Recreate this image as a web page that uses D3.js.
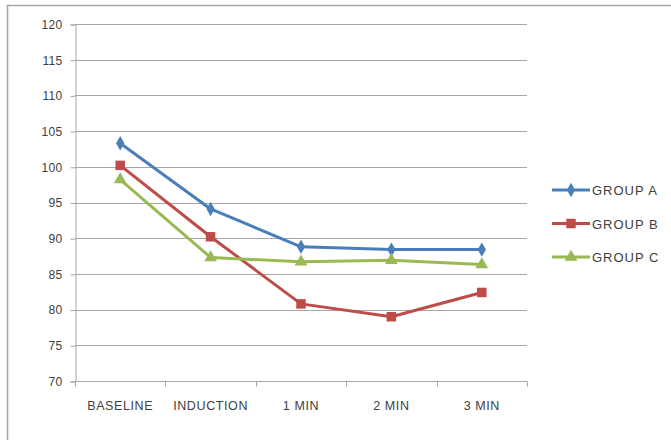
<!DOCTYPE html>
<html>
<head>
<meta charset="utf-8">
<script src="https://cdn.jsdelivr.net/npm/d3@7"></script>
<style>
  html, body { margin: 0; padding: 0; background: #fff; }
  svg { display: block; }
  text { font-family: "Liberation Sans", Arial, sans-serif; fill: #404040; }
</style>
</head>
<body>
<svg id="chart" width="671" height="440"></svg>
<script>
// Time points and the mean value per group
const categories = ["BASELINE", "INDUCTION", "1 MIN", "2 MIN", "3 MIN"];
const groupA = [103.3, 94.1, 88.8, 88.4, 88.4];
const groupB = [100.2, 90.2, 80.8, 79.0, 82.4];
const groupC = [98.2, 87.3, 86.7, 86.9, 86.3];
const seriesNames = ["GROUP A", "GROUP B", "GROUP C"];
const yTicks = [70, 75, 80, 85, 90, 95, 100, 105, 110, 115, 120];

const series = [
  { name: seriesNames[0], values: groupA, color: "#4a7ebb", symbol: d3.symbolDiamond, size: 60 },
  { name: seriesNames[1], values: groupB, color: "#be4b48", symbol: d3.symbolSquare, size: 90 },
  { name: seriesNames[2], values: groupC, color: "#98b954", symbol: d3.symbolTriangle, size: 70 }
];

const svg = d3.select("#chart");

// outer frame
svg.append("rect")
  .attr("x", 7.5).attr("y", 5.5)
  .attr("width", 700).attr("height", 500)
  .attr("fill", "none").attr("stroke", "#a6a6a6").attr("stroke-width", 1.5);

const plot = { left: 75, right: 527, top: 24, bottom: 381 };

const x = d3.scaleBand().domain(categories).range([plot.left, plot.right]);
const y = d3.scaleLinear().domain([70, 120]).range([plot.bottom, plot.top]);

// horizontal gridlines
svg.append("g")
  .selectAll("line")
  .data(yTicks.slice(1))
  .join("line")
  .attr("x1", plot.left).attr("x2", plot.right)
  .attr("y1", d => Math.round(y(d)) + 0.5).attr("y2", d => Math.round(y(d)) + 0.5)
  .attr("stroke", "#a6a6a6").attr("stroke-width", 1);

// y axis
const yAxis = svg.append("g")
  .attr("transform", `translate(${plot.left + 0.5},0.5)`)
  .call(d3.axisLeft(y).tickValues(yTicks).tickSize(5).tickPadding(8).tickFormat(d3.format("d")));
yAxis.select(".domain").attr("stroke", "#a6a6a6");
yAxis.selectAll(".tick line").attr("stroke", "#a6a6a6");
yAxis.selectAll("text")
  .attr("font-size", 12)
  .style("font-family", "'Liberation Sans', Arial, sans-serif")
  .style("letter-spacing", "0.3px")
  .attr("fill", "#404040");

// x axis with ticks on category boundaries
const xAxisG = svg.append("g").attr("transform", `translate(0,${plot.bottom + 0.5})`);
xAxisG.append("line")
  .attr("x1", plot.left).attr("x2", plot.right)
  .attr("stroke", "#a6a6a6");
const bounds = categories.map(c => x(c)).concat([x(categories[categories.length - 1]) + x.bandwidth()]);
xAxisG.selectAll("line.tk")
  .data(bounds)
  .join("line")
  .attr("class", "tk")
  .attr("x1", d => Math.round(d) + 0.5).attr("x2", d => Math.round(d) + 0.5)
  .attr("y1", 0).attr("y2", 5)
  .attr("stroke", "#a6a6a6");
xAxisG.selectAll("text")
  .data(categories)
  .join("text")
  .attr("x", d => x(d) + x.bandwidth() / 2)
  .attr("y", 28)
  .attr("text-anchor", "middle")
  .attr("font-size", 12.5)
  .style("letter-spacing", "0.6px")
  .text(d => d);

// lines and markers
const cx = c => x(c) + x.bandwidth() / 2;
const line = d3.line().x((d, i) => cx(categories[i])).y(d => y(d));

series.forEach(s => {
  svg.append("path")
    .datum(s.values)
    .attr("d", line)
    .attr("fill", "none")
    .attr("stroke", s.color)
    .attr("stroke-width", 3)
    .attr("stroke-linejoin", "round");
  svg.append("g")
    .selectAll("path")
    .data(s.values)
    .join("path")
    .attr("transform", (d, i) => `translate(${cx(categories[i])},${y(d)})`)
    .attr("d", d3.symbol().type(s.symbol).size(s.size))
    .attr("fill", s.color);
});

// legend
const legend = svg.append("g");
const legendY = d3.scalePoint().domain(seriesNames).range([190, 257]);
series.forEach(s => {
  const g = legend.append("g").attr("transform", `translate(0,${legendY(s.name)})`);
  g.append("line")
    .attr("x1", 552).attr("x2", 590)
    .attr("stroke", s.color).attr("stroke-width", 3);
  g.append("path")
    .attr("transform", "translate(571,0)")
    .attr("d", d3.symbol().type(s.symbol).size(s.size))
    .attr("fill", s.color);
  g.append("text")
    .attr("x", 592).attr("y", 5)
    .attr("font-size", 13)
    .style("letter-spacing", "1px")
    .text(s.name);
});
</script>
</body>
</html>
